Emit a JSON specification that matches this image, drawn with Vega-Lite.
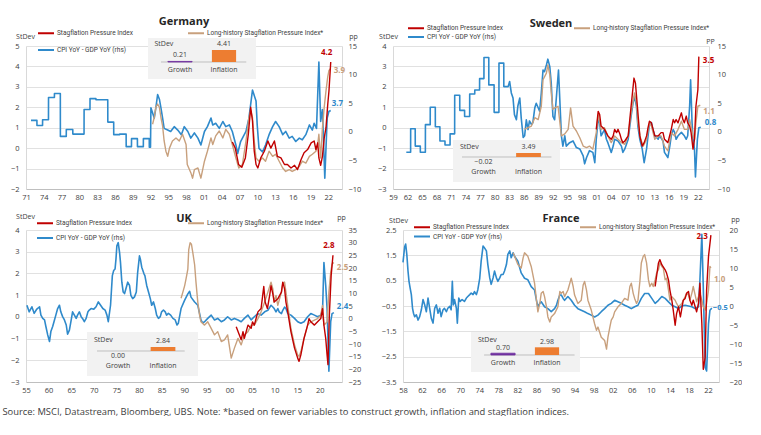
{
"$schema": "https://vega.github.io/schema/vega-lite/v6.json",
"padding": {"left": 2, "top": 15, "right": 0, "bottom": 0},
"config": {
  "font": "Open Sans",
  "view": {"stroke": null},
  "axis": {"labelFontSize": 7.5, "labelColor": "#404040", "ticks": false, "grid": false, "titleFontSize": 7, "titleFontWeight": "normal", "titleColor": "#404040", "domainColor": "#D9D9D9", "gridColor": "#D9D9D9", "gridWidth": 0.8, "labelFont": "Open Sans", "titleFont": "Open Sans"},
  "axisX": {"domainColor": "#BFBFBF", "labelPadding": 4, "labelFlush": false, "labelOverlap": false},
  "legend": {"labelFontSize": 6.5, "labelColor": "#404040", "labelFont": "Roboto", "symbolType": "M-2,0H2", "symbolSize": 64, "symbolStrokeWidth": 2, "labelOffset": 6, "orient": "none", "columns": 2, "direction": "horizontal"},
  "title": {"fontSize": 11, "fontWeight": "bold", "color": "#262626", "frame": "group", "font": "Open Sans"},
  "line": {"strokeJoin": "round"}
},
"datasets": {
"de_in": [{"k":"Growth","v":0.21},{"k":"Inflation","v":4.41}],
"se_in": [{"k":"Growth","v":-0.02},{"k":"Inflation","v":3.49}],
"uk_in": [{"k":"Growth","v":0.00},{"k":"Inflation","v":2.84}],
"fr_in": [{"k":"Growth","v":0.70},{"k":"Inflation","v":2.98}],
"de": [
{"s":"C","t":1971.84,"v":2.0},{"s":"C","t":1972.84,"v":2.0},{"s":"C","t":1972.85,"v":1.1},{"s":"C","t":1973.79,"v":1.1},{"s":"C","t":1973.8,"v":2.1},{"s":"C","t":1974.79,"v":2.1},{"s":"C","t":1974.8,"v":6.0},{"s":"C","t":1975.79,"v":6.0},{"s":"C","t":1975.8,"v":6.7},{"s":"C","t":1976.79,"v":6.7},{"s":"C","t":1976.8,"v":-0.8},{"s":"C","t":1977.79,"v":-0.8},{"s":"C","t":1977.8,"v":0.4},{"s":"C","t":1978.89,"v":0.4},{"s":"C","t":1978.9,"v":-0.4},{"s":"C","t":1980.79,"v":-0.4},{"s":"C","t":1980.8,"v":3.9},{"s":"C","t":1981.79,"v":3.9},{"s":"C","t":1981.8,"v":5.8},{"s":"C","t":1982.79,"v":5.8},{"s":"C","t":1982.8,"v":5.6},{"s":"C","t":1984.79,"v":5.6},{"s":"C","t":1984.8,"v":1.7},{"s":"C","t":1985.79,"v":1.7},{"s":"C","t":1985.8,"v":-0.5},{"s":"C","t":1986.79,"v":-0.5},{"s":"C","t":1986.8,"v":-0.4},{"s":"C","t":1987.89,"v":-0.4},{"s":"C","t":1987.9,"v":-2.6},{"s":"C","t":1988.79,"v":-2.6},{"s":"C","t":1988.8,"v":-1.2},{"s":"C","t":1989.79,"v":-1.2},{"s":"C","t":1989.8,"v":-2.6},{"s":"C","t":1990.79,"v":-2.6},{"s":"C","t":1990.8,"v":-1.2},{"s":"C","t":1991.79,"v":-1.2},{"s":"C","t":1991.8,"v":-2.7},{"s":"C","t":1992.0,"v":-2.7},
{"s":"C","t":1992.07,"v":4.2},{"s":"C","t":1992.63,"v":2.4},{"s":"C","t":1992.9,"v":4.2},{"s":"C","t":1993.2,"v":6.5},{"s":"C","t":1993.5,"v":5.7},{"s":"C","t":1993.76,"v":4.2},{"s":"C","t":1994.04,"v":2.4},{"s":"C","t":1994.3,"v":0.6},{"s":"C","t":1994.9,"v":0.3},{"s":"C","t":1995.4,"v":0.06},{"s":"C","t":1996.0,"v":0.9},{"s":"C","t":1996.6,"v":0.3},{"s":"C","t":1997.2,"v":-0.5},{"s":"C","t":1997.7,"v":0.9},{"s":"C","t":1998.3,"v":0.06},{"s":"C","t":1998.8,"v":-1.1},{"s":"C","t":1999.4,"v":-0.2},{"s":"C","t":2000.0,"v":-1.1},{"s":"C","t":2000.5,"v":-2.3},{"s":"C","t":2001.1,"v":0.06},{"s":"C","t":2001.6,"v":0.9},{"s":"C","t":2002.2,"v":2.4},{"s":"C","t":2002.5,"v":1.2},{"s":"C","t":2003.0,"v":1.5},{"s":"C","t":2003.6,"v":0.6},{"s":"C","t":2004.2,"v":1.8},{"s":"C","t":2004.7,"v":0.9},{"s":"C","t":2005.3,"v":1.2},{"s":"C","t":2005.8,"v":0.06},{"s":"C","t":2006.4,"v":-2.3},{"s":"C","t":2006.7,"v":-3.8},{"s":"C","t":2007.2,"v":-1.7},{"s":"C","t":2008.1,"v":0.06},{"s":"C","t":2008.6,"v":2.4},{"s":"C","t":2009.2,"v":7.3},{"s":"C","t":2009.8,"v":5.4},{"s":"C","t":2010.0,"v":1.2},{"s":"C","t":2010.3,"v":-2.9},{"s":"C","t":2010.9,"v":-3.5},{"s":"C","t":2011.4,"v":-2.3},{"s":"C","t":2012.0,"v":-0.5},{"s":"C","t":2012.6,"v":0.9},{"s":"C","t":2013.1,"v":1.8},{"s":"C","t":2013.7,"v":0.9},{"s":"C","t":2014.3,"v":-0.5},{"s":"C","t":2014.8,"v":0.06},{"s":"C","t":2015.4,"v":-1.1},{"s":"C","t":2015.9,"v":-0.8},{"s":"C","t":2016.5,"v":-1.7},{"s":"C","t":2017.1,"v":-1.1},{"s":"C","t":2017.6,"v":-1.4},{"s":"C","t":2018.2,"v":-0.5},{"s":"C","t":2018.8,"v":1.2},{"s":"C","t":2019.3,"v":0.3},{"s":"C","t":2019.6,"v":1.5},{"s":"C","t":2020.0,"v":0.6},{"s":"C","t":2020.4,"v":12.2},{"s":"C","t":2020.7,"v":1.8},{"s":"C","t":2021.0,"v":3.9},{"s":"C","t":2021.4,"v":-8.1},{"s":"C","t":2021.8,"v":2.4},{"s":"C","t":2022.1,"v":3.6},{"s":"C","t":2022.4,"v":3.7},
{"s":"L","t":1992.35,"v":1.17},{"s":"L","t":1992.63,"v":1.5},{"s":"L","t":1992.9,"v":2.0},{"s":"L","t":1993.2,"v":2.16},{"s":"L","t":1993.5,"v":2.0},{"s":"L","t":1993.76,"v":1.5},{"s":"L","t":1994.04,"v":1.09},{"s":"L","t":1994.3,"v":0.35},{"s":"L","t":1994.6,"v":-0.15},{"s":"L","t":1994.9,"v":-0.4},{"s":"L","t":1995.2,"v":0.0},{"s":"L","t":1995.7,"v":0.35},{"s":"L","t":1996.3,"v":0.5},{"s":"L","t":1996.85,"v":0.35},{"s":"L","t":1997.4,"v":0.68},{"s":"L","t":1998.0,"v":0.18},{"s":"L","t":1998.2,"v":-0.8},{"s":"L","t":1998.8,"v":-1.2},{"s":"L","t":1999.1,"v":-1.47},{"s":"L","t":1999.4,"v":-1.05},{"s":"L","t":2000.0,"v":-0.97},{"s":"L","t":2000.5,"v":-1.47},{"s":"L","t":2001.1,"v":-0.64},{"s":"L","t":2001.6,"v":-0.15},{"s":"L","t":2002.2,"v":0.5},{"s":"L","t":2002.5,"v":0.18},{"s":"L","t":2003.0,"v":0.6},{"s":"L","t":2003.6,"v":0.84},{"s":"L","t":2004.2,"v":0.5},{"s":"L","t":2004.7,"v":0.92},{"s":"L","t":2005.3,"v":0.68},{"s":"L","t":2005.8,"v":0.18},{"s":"L","t":2006.4,"v":-0.48},{"s":"L","t":2006.9,"v":-0.97},{"s":"L","t":2007.5,"v":-0.8},{"s":"L","t":2008.1,"v":0.35},{"s":"L","t":2008.6,"v":1.5},{"s":"L","t":2008.9,"v":1.83},{"s":"L","t":2009.2,"v":1.5},{"s":"L","t":2009.5,"v":0.35},{"s":"L","t":2009.8,"v":-0.48},{"s":"L","t":2010.3,"v":-0.64},{"s":"L","t":2010.9,"v":-0.48},{"s":"L","t":2011.4,"v":-0.64},{"s":"L","t":2012.0,"v":-0.15},{"s":"L","t":2012.6,"v":-0.4},{"s":"L","t":2013.1,"v":-0.3},{"s":"L","t":2013.7,"v":-0.64},{"s":"L","t":2014.3,"v":-0.97},{"s":"L","t":2014.8,"v":-1.14},{"s":"L","t":2015.4,"v":-1.05},{"s":"L","t":2015.9,"v":-1.14},{"s":"L","t":2016.5,"v":-1.05},{"s":"L","t":2017.1,"v":-0.9},{"s":"L","t":2017.6,"v":-0.64},{"s":"L","t":2018.2,"v":-0.73},{"s":"L","t":2018.8,"v":-0.4},{"s":"L","t":2019.3,"v":-0.3},{"s":"L","t":2019.9,"v":-0.15},{"s":"L","t":2020.2,"v":0.18},{"s":"L","t":2020.4,"v":0.68},{"s":"L","t":2020.7,"v":-0.48},{"s":"L","t":2021.0,"v":1.0},{"s":"L","t":2021.3,"v":2.0},{"s":"L","t":2021.6,"v":2.8},{"s":"L","t":2021.9,"v":3.5},{"s":"L","t":2022.1,"v":3.8},{"s":"L","t":2022.4,"v":3.9},
{"s":"S","t":2005.8,"v":0.3},{"s":"S","t":2006.3,"v":0.0},{"s":"S","t":2006.85,"v":-0.8},{"s":"S","t":2007.4,"v":-0.94},{"s":"S","t":2008.0,"v":-0.48},{"s":"S","t":2008.5,"v":0.68},{"s":"S","t":2008.9,"v":2.0},{"s":"S","t":2009.2,"v":1.34},{"s":"S","t":2009.5,"v":-0.15},{"s":"S","t":2009.8,"v":-0.8},{"s":"S","t":2010.1,"v":-0.97},{"s":"S","t":2010.6,"v":-0.48},{"s":"S","t":2011.2,"v":-0.15},{"s":"S","t":2011.8,"v":0.35},{"s":"S","t":2012.3,"v":0.0},{"s":"S","t":2012.9,"v":0.35},{"s":"S","t":2013.4,"v":-0.4},{"s":"S","t":2014.0,"v":-0.48},{"s":"S","t":2014.6,"v":-0.8},{"s":"S","t":2015.1,"v":-0.8},{"s":"S","t":2015.7,"v":-0.97},{"s":"S","t":2016.3,"v":-0.84},{"s":"S","t":2016.8,"v":-1.05},{"s":"S","t":2017.4,"v":-0.56},{"s":"S","t":2017.9,"v":-0.23},{"s":"S","t":2018.5,"v":-0.07},{"s":"S","t":2019.1,"v":0.26},{"s":"S","t":2019.6,"v":0.35},{"s":"S","t":2019.9,"v":-0.07},{"s":"S","t":2020.2,"v":0.26},{"s":"S","t":2020.4,"v":-0.48},{"s":"S","t":2020.7,"v":-0.84},{"s":"S","t":2021.0,"v":-0.4},{"s":"S","t":2021.3,"v":0.5},{"s":"S","t":2021.6,"v":1.0},{"s":"S","t":2021.9,"v":2.16},{"s":"S","t":2022.1,"v":2.8},{"s":"S","t":2022.4,"v":4.22}
],
"se": [
{"s":"C","t":1961.75,"v":-3.57},{"s":"C","t":1962.64,"v":-3.57},{"s":"C","t":1962.65,"v":0.54},{"s":"C","t":1963.59,"v":0.54},{"s":"C","t":1963.6,"v":-2.5},{"s":"C","t":1964.64,"v":-2.5},{"s":"C","t":1964.65,"v":-3.57},{"s":"C","t":1965.69,"v":-3.57},{"s":"C","t":1965.7,"v":1.25},{"s":"C","t":1966.69,"v":1.25},{"s":"C","t":1966.7,"v":4.3},{"s":"C","t":1967.74,"v":4.3},{"s":"C","t":1967.75,"v":0.89},{"s":"C","t":1968.69,"v":0.89},{"s":"C","t":1968.7,"v":-1.6},{"s":"C","t":1969.74,"v":-1.6},{"s":"C","t":1969.75,"v":-2.3},{"s":"C","t":1970.79,"v":-2.3},{"s":"C","t":1970.8,"v":-0.36},{"s":"C","t":1971.74,"v":-0.36},{"s":"C","t":1971.75,"v":6.4},{"s":"C","t":1972.79,"v":6.4},{"s":"C","t":1972.8,"v":3.75},{"s":"C","t":1973.79,"v":3.75},{"s":"C","t":1973.8,"v":2.68},{"s":"C","t":1974.84,"v":2.68},{"s":"C","t":1974.85,"v":6.6},{"s":"C","t":1975.89,"v":6.6},{"s":"C","t":1975.9,"v":7.3},{"s":"C","t":1976.89,"v":7.3},{"s":"C","t":1976.9,"v":9.3},{"s":"C","t":1977.79,"v":9.3},{"s":"C","t":1977.8,"v":13.0},{"s":"C","t":1978.79,"v":13.0},{"s":"C","t":1978.8,"v":8.2},{"s":"C","t":1979.89,"v":8.2},{"s":"C","t":1979.9,"v":3.4},{"s":"C","t":1980.89,"v":3.4},{"s":"C","t":1980.9,"v":12.0},{"s":"C","t":1981.89,"v":12.0},{"s":"C","t":1981.9,"v":7.9},{"s":"C","t":1982.79,"v":7.9},
{"s":"C","t":1983.1,"v":8.8},{"s":"C","t":1983.45,"v":6.8},{"s":"C","t":1983.8,"v":5.9},{"s":"C","t":1984.1,"v":3.0},{"s":"C","t":1984.5,"v":2.1},{"s":"C","t":1984.8,"v":4.5},{"s":"C","t":1985.2,"v":5.9},{"s":"C","t":1985.5,"v":2.4},{"s":"C","t":1985.9,"v":-1.0},{"s":"C","t":1986.2,"v":-0.7},{"s":"C","t":1986.55,"v":2.1},{"s":"C","t":1986.9,"v":0.4},{"s":"C","t":1987.2,"v":1.9},{"s":"C","t":1987.6,"v":1.3},{"s":"C","t":1987.9,"v":1.6},{"s":"C","t":1988.3,"v":4.2},{"s":"C","t":1988.6,"v":5.0},{"s":"C","t":1989.0,"v":4.2},{"s":"C","t":1989.3,"v":3.6},{"s":"C","t":1989.65,"v":6.8},{"s":"C","t":1990.0,"v":10.8},{"s":"C","t":1990.3,"v":10.5},{"s":"C","t":1990.7,"v":11.7},{"s":"C","t":1991.0,"v":12.7},{"s":"C","t":1991.4,"v":11.4},{"s":"C","t":1991.7,"v":8.5},{"s":"C","t":1992.05,"v":2.7},{"s":"C","t":1992.4,"v":2.1},{"s":"C","t":1993.2,"v":10.8},{"s":"C","t":1993.8,"v":-0.7},{"s":"C","t":1994.1,"v":-2.5},{"s":"C","t":1994.5,"v":-0.7},{"s":"C","t":1994.8,"v":-2.5},{"s":"C","t":1995.5,"v":-1.9},{"s":"C","t":1996.2,"v":-1.6},{"s":"C","t":1996.9,"v":-2.75},{"s":"C","t":1997.6,"v":-3.0},{"s":"C","t":1998.3,"v":-4.2},{"s":"C","t":1998.6,"v":-5.6},{"s":"C","t":1999.0,"v":-4.5},{"s":"C","t":1999.6,"v":-3.3},{"s":"C","t":2000.3,"v":-3.6},{"s":"C","t":2000.7,"v":-5.4},{"s":"C","t":2001.0,"v":-1.3},{"s":"C","t":2001.4,"v":2.1},{"s":"C","t":2001.7,"v":1.6},{"s":"C","t":2002.0,"v":-0.7},{"s":"C","t":2002.7,"v":0.4},{"s":"C","t":2003.1,"v":-1.3},{"s":"C","t":2003.4,"v":-1.9},{"s":"C","t":2004.1,"v":-3.6},{"s":"C","t":2004.5,"v":-2.5},{"s":"C","t":2004.8,"v":-1.3},{"s":"C","t":2005.5,"v":-1.6},{"s":"C","t":2006.2,"v":-2.5},{"s":"C","t":2006.5,"v":-3.6},{"s":"C","t":2006.9,"v":-3.0},{"s":"C","t":2007.6,"v":-1.3},{"s":"C","t":2008.2,"v":2.7},{"s":"C","t":2008.6,"v":5.0},{"s":"C","t":2008.9,"v":6.2},{"s":"C","t":2009.3,"v":4.5},{"s":"C","t":2009.6,"v":1.0},{"s":"C","t":2010.0,"v":-1.3},{"s":"C","t":2010.5,"v":-3.0},{"s":"C","t":2010.9,"v":-5.4},{"s":"C","t":2011.4,"v":-3.0},{"s":"C","t":2011.7,"v":-0.7},{"s":"C","t":2012.0,"v":1.3},{"s":"C","t":2012.4,"v":1.6},{"s":"C","t":2012.7,"v":0.4},{"s":"C","t":2013.1,"v":-0.7},{"s":"C","t":2013.8,"v":-1.3},{"s":"C","t":2014.1,"v":-0.7},{"s":"C","t":2014.8,"v":-1.6},{"s":"C","t":2015.1,"v":-3.6},{"s":"C","t":2015.8,"v":-4.5},{"s":"C","t":2016.2,"v":-2.5},{"s":"C","t":2016.5,"v":-0.7},{"s":"C","t":2016.9,"v":0.4},{"s":"C","t":2017.2,"v":-0.1},{"s":"C","t":2017.5,"v":-1.3},{"s":"C","t":2017.9,"v":-0.7},{"s":"C","t":2018.6,"v":-0.1},{"s":"C","t":2019.2,"v":-0.7},{"s":"C","t":2019.6,"v":-1.3},{"s":"C","t":2019.9,"v":-0.7},{"s":"C","t":2020.3,"v":4.5},{"s":"C","t":2020.5,"v":9.1},{"s":"C","t":2020.8,"v":1.6},{"s":"C","t":2021.0,"v":-1.3},{"s":"C","t":2021.3,"v":-3.0},{"s":"C","t":2021.5,"v":-7.9},{"s":"C","t":2021.9,"v":-1.3},{"s":"C","t":2022.2,"v":0.7},{"s":"C","t":2022.6,"v":0.8},
{"s":"L","t":1986.2,"v":-0.08},{"s":"L","t":1986.9,"v":0.0},{"s":"L","t":1987.6,"v":0.08},{"s":"L","t":1988.3,"v":0.49},{"s":"L","t":1989.0,"v":0.4},{"s":"L","t":1989.65,"v":1.05},{"s":"L","t":1990.0,"v":2.35},{"s":"L","t":1990.7,"v":2.67},{"s":"L","t":1991.0,"v":3.07},{"s":"L","t":1991.4,"v":2.6},{"s":"L","t":1991.7,"v":1.7},{"s":"L","t":1992.05,"v":0.9},{"s":"L","t":1992.4,"v":0.97},{"s":"L","t":1993.1,"v":1.05},{"s":"L","t":1993.8,"v":-0.4},{"s":"L","t":1994.5,"v":-0.3},{"s":"L","t":1995.2,"v":-0.08},{"s":"L","t":1995.7,"v":0.97},{"s":"L","t":1996.2,"v":0.08},{"s":"L","t":1996.9,"v":-0.16},{"s":"L","t":1997.6,"v":-0.49},{"s":"L","t":1998.3,"v":-0.9},{"s":"L","t":1999.0,"v":-0.97},{"s":"L","t":1999.6,"v":-0.9},{"s":"L","t":2000.3,"v":-1.05},{"s":"L","t":2001.0,"v":-0.24},{"s":"L","t":2001.4,"v":0.65},{"s":"L","t":2002.0,"v":-0.08},{"s":"L","t":2002.7,"v":0.0},{"s":"L","t":2003.4,"v":-0.4},{"s":"L","t":2004.1,"v":-0.73},{"s":"L","t":2004.8,"v":-0.4},{"s":"L","t":2005.5,"v":-0.57},{"s":"L","t":2006.2,"v":-0.73},{"s":"L","t":2006.9,"v":-0.81},{"s":"L","t":2007.6,"v":-0.4},{"s":"L","t":2008.2,"v":0.73},{"s":"L","t":2008.9,"v":1.7},{"s":"L","t":2009.3,"v":1.2},{"s":"L","t":2009.6,"v":0.24},{"s":"L","t":2010.2,"v":-0.57},{"s":"L","t":2010.7,"v":-0.9},{"s":"L","t":2011.4,"v":-0.57},{"s":"L","t":2012.0,"v":0.24},{"s":"L","t":2012.4,"v":0.08},{"s":"L","t":2013.1,"v":-0.57},{"s":"L","t":2013.8,"v":-0.4},{"s":"L","t":2014.4,"v":-0.4},{"s":"L","t":2015.1,"v":-0.9},{"s":"L","t":2015.8,"v":-1.13},{"s":"L","t":2016.5,"v":-0.24},{"s":"L","t":2017.2,"v":-0.4},{"s":"L","t":2017.9,"v":-0.08},{"s":"L","t":2018.6,"v":0.32},{"s":"L","t":2019.2,"v":-0.08},{"s":"L","t":2019.9,"v":-0.08},{"s":"L","t":2020.3,"v":0.4},{"s":"L","t":2020.6,"v":0.08},{"s":"L","t":2021.0,"v":-0.4},{"s":"L","t":2021.3,"v":-0.57},{"s":"L","t":2021.6,"v":0.24},{"s":"L","t":2022.0,"v":1.05},{"s":"L","t":2022.5,"v":1.1},
{"s":"S","t":2001.0,"v":-0.08},{"s":"S","t":2001.4,"v":0.8},{"s":"S","t":2001.7,"v":0.65},{"s":"S","t":2002.0,"v":0.08},{"s":"S","t":2002.7,"v":-0.08},{"s":"S","t":2003.4,"v":-0.4},{"s":"S","t":2004.1,"v":-0.57},{"s":"S","t":2004.5,"v":-0.4},{"s":"S","t":2004.8,"v":-0.08},{"s":"S","t":2005.2,"v":-0.24},{"s":"S","t":2005.5,"v":-0.08},{"s":"S","t":2005.9,"v":-0.32},{"s":"S","t":2006.2,"v":-0.57},{"s":"S","t":2006.5,"v":-0.73},{"s":"S","t":2006.9,"v":-0.65},{"s":"S","t":2007.6,"v":-0.4},{"s":"S","t":2008.2,"v":1.05},{"s":"S","t":2008.8,"v":2.43},{"s":"S","t":2009.1,"v":2.18},{"s":"S","t":2009.5,"v":1.05},{"s":"S","t":2010.0,"v":-0.4},{"s":"S","t":2010.5,"v":-0.9},{"s":"S","t":2010.9,"v":-0.73},{"s":"S","t":2011.4,"v":-0.4},{"s":"S","t":2011.7,"v":0.0},{"s":"S","t":2012.0,"v":0.32},{"s":"S","t":2012.4,"v":0.24},{"s":"S","t":2013.1,"v":-0.4},{"s":"S","t":2013.8,"v":-0.4},{"s":"S","t":2014.4,"v":-0.24},{"s":"S","t":2014.8,"v":-0.24},{"s":"S","t":2015.1,"v":-0.57},{"s":"S","t":2015.8,"v":-0.73},{"s":"S","t":2016.5,"v":-0.08},{"s":"S","t":2016.9,"v":0.4},{"s":"S","t":2017.2,"v":0.24},{"s":"S","t":2017.5,"v":0.4},{"s":"S","t":2017.9,"v":0.24},{"s":"S","t":2018.6,"v":0.73},{"s":"S","t":2018.9,"v":0.4},{"s":"S","t":2019.2,"v":0.24},{"s":"S","t":2019.6,"v":0.57},{"s":"S","t":2019.9,"v":0.24},{"s":"S","t":2020.3,"v":0.08},{"s":"S","t":2020.6,"v":-0.24},{"s":"S","t":2021.0,"v":-1.05},{"s":"S","t":2021.3,"v":-0.57},{"s":"S","t":2021.6,"v":1.05},{"s":"S","t":2022.0,"v":1.86},{"s":"S","t":2022.2,"v":3.48}
],
"uk": [
{"s":"C","t":1955.2,"v":5.3},{"s":"C","t":1955.7,"v":2.7},{"s":"C","t":1956.3,"v":4.7},{"s":"C","t":1956.8,"v":2.1},{"s":"C","t":1957.4,"v":3.8},{"s":"C","t":1958.0,"v":4.7},{"s":"C","t":1958.3,"v":1.4},{"s":"C","t":1958.7,"v":0.1},{"s":"C","t":1959.1,"v":-0.5},{"s":"C","t":1959.4,"v":-3.1},{"s":"C","t":1959.8,"v":-6.4},{"s":"C","t":1960.2,"v":-9.0},{"s":"C","t":1960.5,"v":-5.1},{"s":"C","t":1960.9,"v":-3.1},{"s":"C","t":1961.3,"v":-0.5},{"s":"C","t":1961.6,"v":1.4},{"s":"C","t":1962.0,"v":4.0},{"s":"C","t":1962.4,"v":5.3},{"s":"C","t":1962.7,"v":2.7},{"s":"C","t":1963.1,"v":0.8},{"s":"C","t":1963.5,"v":-0.5},{"s":"C","t":1963.9,"v":-2.5},{"s":"C","t":1964.2,"v":-6.1},{"s":"C","t":1964.6,"v":-4.5},{"s":"C","t":1965.0,"v":-0.5},{"s":"C","t":1965.3,"v":2.7},{"s":"C","t":1965.7,"v":1.4},{"s":"C","t":1966.1,"v":0.1},{"s":"C","t":1966.4,"v":1.4},{"s":"C","t":1966.8,"v":2.7},{"s":"C","t":1967.2,"v":0.8},{"s":"C","t":1967.5,"v":0.1},{"s":"C","t":1967.9,"v":-1.2},{"s":"C","t":1968.3,"v":0.1},{"s":"C","t":1968.7,"v":2.7},{"s":"C","t":1969.0,"v":3.4},{"s":"C","t":1969.4,"v":4.0},{"s":"C","t":1970.0,"v":3.75},{"s":"C","t":1970.5,"v":4.7},{"s":"C","t":1971.0,"v":6.6},{"s":"C","t":1971.5,"v":5.3},{"s":"C","t":1972.0,"v":4.0},{"s":"C","t":1972.5,"v":3.4},{"s":"C","t":1972.9,"v":1.4},{"s":"C","t":1973.2,"v":-1.2},{"s":"C","t":1973.7,"v":5.3},{"s":"C","t":1974.1,"v":17.0},{"s":"C","t":1974.4,"v":19.0},{"s":"C","t":1974.7,"v":19.6},{"s":"C","t":1974.9,"v":23.5},{"s":"C","t":1975.1,"v":28.75},{"s":"C","t":1975.4,"v":30.0},{"s":"C","t":1975.7,"v":26.1},{"s":"C","t":1975.9,"v":22.2},{"s":"C","t":1976.2,"v":14.4},{"s":"C","t":1976.5,"v":10.5},{"s":"C","t":1976.8,"v":9.9},{"s":"C","t":1977.1,"v":11.8},{"s":"C","t":1977.5,"v":14.4},{"s":"C","t":1977.9,"v":13.1},{"s":"C","t":1978.2,"v":9.2},{"s":"C","t":1978.6,"v":7.9},{"s":"C","t":1979.0,"v":8.6},{"s":"C","t":1979.4,"v":10.5},{"s":"C","t":1979.7,"v":18.3},{"s":"C","t":1980.1,"v":24.8},{"s":"C","t":1980.3,"v":23.5},{"s":"C","t":1980.6,"v":20.3},{"s":"C","t":1981.1,"v":17.7},{"s":"C","t":1981.3,"v":17.0},{"s":"C","t":1981.7,"v":13.1},{"s":"C","t":1982.1,"v":10.5},{"s":"C","t":1982.5,"v":7.9},{"s":"C","t":1982.8,"v":5.3},{"s":"C","t":1983.2,"v":6.6},{"s":"C","t":1983.6,"v":4.0},{"s":"C","t":1983.9,"v":1.4},{"s":"C","t":1984.3,"v":0.1},{"s":"C","t":1984.7,"v":0.8},{"s":"C","t":1985.0,"v":2.7},{"s":"C","t":1985.4,"v":3.4},{"s":"C","t":1985.8,"v":2.7},{"s":"C","t":1986.1,"v":1.4},{"s":"C","t":1986.5,"v":2.1},{"s":"C","t":1987.0,"v":1.4},{"s":"C","t":1987.5,"v":0.1},{"s":"C","t":1988.0,"v":-0.5},{"s":"C","t":1988.4,"v":-2.5},{"s":"C","t":1988.7,"v":-1.8},{"s":"C","t":1989.3,"v":4.0},{"s":"C","t":1990.1,"v":7.3},{"s":"C","t":1990.8,"v":9.8},{"s":"C","t":1991.2,"v":10.8},{"s":"C","t":1991.5,"v":8.5},{"s":"C","t":1992.3,"v":6.6},{"s":"C","t":1993.0,"v":5.3},{"s":"C","t":1993.4,"v":2.0},{"s":"C","t":1993.7,"v":-0.5},{"s":"C","t":1994.1,"v":-1.8},{"s":"C","t":1994.5,"v":-1.2},{"s":"C","t":1995.2,"v":0.1},{"s":"C","t":1995.96,"v":1.4},{"s":"C","t":1996.7,"v":-0.5},{"s":"C","t":1997.4,"v":0.1},{"s":"C","t":1998.2,"v":-1.2},{"s":"C","t":1998.9,"v":-0.5},{"s":"C","t":1999.6,"v":0.76},{"s":"C","t":2000.4,"v":-0.5},{"s":"C","t":2001.1,"v":0.1},{"s":"C","t":2001.9,"v":-0.5},{"s":"C","t":2002.6,"v":-1.2},{"s":"C","t":2003.3,"v":0.1},{"s":"C","t":2004.1,"v":1.4},{"s":"C","t":2004.8,"v":-0.5},{"s":"C","t":2005.5,"v":0.76},{"s":"C","t":2006.3,"v":2.0},{"s":"C","t":2007.0,"v":1.4},{"s":"C","t":2007.8,"v":2.7},{"s":"C","t":2008.5,"v":3.3},{"s":"C","t":2009.2,"v":5.3},{"s":"C","t":2009.6,"v":4.6},{"s":"C","t":2009.9,"v":4.0},{"s":"C","t":2010.3,"v":2.7},{"s":"C","t":2010.7,"v":4.0},{"s":"C","t":2011.0,"v":2.7},{"s":"C","t":2011.5,"v":2.0},{"s":"C","t":2011.8,"v":3.3},{"s":"C","t":2012.2,"v":4.6},{"s":"C","t":2012.5,"v":4.0},{"s":"C","t":2012.9,"v":2.0},{"s":"C","t":2013.6,"v":1.4},{"s":"C","t":2014.4,"v":0.1},{"s":"C","t":2015.1,"v":-1.2},{"s":"C","t":2015.8,"v":-1.8},{"s":"C","t":2016.5,"v":-1.2},{"s":"C","t":2017.3,"v":0.76},{"s":"C","t":2018.0,"v":2.0},{"s":"C","t":2018.8,"v":1.4},{"s":"C","t":2019.5,"v":0.76},{"s":"C","t":2020.2,"v":1.4},{"s":"C","t":2020.6,"v":3.3},{"s":"C","t":2020.9,"v":22.2},{"s":"C","t":2021.3,"v":13.1},{"s":"C","t":2021.6,"v":4.0},{"s":"C","t":2022.0,"v":-20.7},{"s":"C","t":2022.4,"v":-1.2},{"s":"C","t":2022.7,"v":2.0},{"s":"C","t":2023.1,"v":2.4},
{"s":"L","t":1989.3,"v":0.86},{"s":"L","t":1989.7,"v":1.14},{"s":"L","t":1990.1,"v":1.44},{"s":"L","t":1990.4,"v":1.75},{"s":"L","t":1990.8,"v":2.2},{"s":"L","t":1991.0,"v":3.1},{"s":"L","t":1991.3,"v":3.41},{"s":"L","t":1991.6,"v":3.34},{"s":"L","t":1991.9,"v":2.96},{"s":"L","t":1992.3,"v":2.4},{"s":"L","t":1992.6,"v":1.6},{"s":"L","t":1993.0,"v":0.68},{"s":"L","t":1993.4,"v":0.08},{"s":"L","t":1993.7,"v":-0.23},{"s":"L","t":1994.5,"v":-0.38},{"s":"L","t":1995.2,"v":-0.23},{"s":"L","t":1995.96,"v":-0.53},{"s":"L","t":1996.7,"v":-0.83},{"s":"L","t":1997.4,"v":-0.68},{"s":"L","t":1998.2,"v":-1.14},{"s":"L","t":1998.9,"v":-1.06},{"s":"L","t":1999.6,"v":-0.83},{"s":"L","t":2000.4,"v":-1.9},{"s":"L","t":2001.1,"v":-1.44},{"s":"L","t":2001.9,"v":-0.99},{"s":"L","t":2002.6,"v":-1.29},{"s":"L","t":2003.3,"v":-0.83},{"s":"L","t":2004.1,"v":-0.68},{"s":"L","t":2004.8,"v":-0.38},{"s":"L","t":2005.5,"v":-0.38},{"s":"L","t":2006.3,"v":-0.08},{"s":"L","t":2007.0,"v":0.23},{"s":"L","t":2007.8,"v":0.68},{"s":"L","t":2008.5,"v":1.14},{"s":"L","t":2009.2,"v":1.6},{"s":"L","t":2009.6,"v":1.29},{"s":"L","t":2009.9,"v":0.68},{"s":"L","t":2010.3,"v":0.99},{"s":"L","t":2010.7,"v":0.53},{"s":"L","t":2011.5,"v":1.14},{"s":"L","t":2011.8,"v":1.52},{"s":"L","t":2012.2,"v":1.6},{"s":"L","t":2012.5,"v":1.14},{"s":"L","t":2012.9,"v":0.53},{"s":"L","t":2013.6,"v":-0.53},{"s":"L","t":2014.4,"v":-1.29},{"s":"L","t":2015.1,"v":-1.75},{"s":"L","t":2015.4,"v":-1.82},{"s":"L","t":2015.8,"v":-1.6},{"s":"L","t":2016.5,"v":-0.99},{"s":"L","t":2017.3,"v":-0.38},{"s":"L","t":2018.0,"v":-0.23},{"s":"L","t":2018.8,"v":-0.15},{"s":"L","t":2019.5,"v":-0.08},{"s":"L","t":2020.2,"v":0.08},{"s":"L","t":2020.6,"v":0.53},{"s":"L","t":2020.9,"v":-0.38},{"s":"L","t":2021.3,"v":-0.3},{"s":"L","t":2021.6,"v":-0.23},{"s":"L","t":2022.0,"v":1.14},{"s":"L","t":2022.4,"v":2.05},{"s":"L","t":2022.7,"v":2.43},{"s":"L","t":2023.1,"v":2.5},
{"s":"S","t":2001.5,"v":-0.45},{"s":"S","t":2002.2,"v":-0.83},{"s":"S","t":2002.6,"v":-1.06},{"s":"S","t":2003.0,"v":-0.68},{"s":"S","t":2003.3,"v":-0.99},{"s":"S","t":2003.7,"v":-0.68},{"s":"S","t":2004.1,"v":-0.38},{"s":"S","t":2004.8,"v":-0.53},{"s":"S","t":2005.1,"v":-0.23},{"s":"S","t":2005.5,"v":-0.38},{"s":"S","t":2006.3,"v":0.23},{"s":"S","t":2007.0,"v":0.38},{"s":"S","t":2007.6,"v":1.4},{"s":"S","t":2007.9,"v":0.68},{"s":"S","t":2008.4,"v":0.38},{"s":"S","t":2008.9,"v":0.99},{"s":"S","t":2009.2,"v":1.44},{"s":"S","t":2009.6,"v":1.06},{"s":"S","t":2009.9,"v":0.68},{"s":"S","t":2010.7,"v":0.83},{"s":"S","t":2011.5,"v":1.14},{"s":"S","t":2011.8,"v":1.6},{"s":"S","t":2012.2,"v":1.29},{"s":"S","t":2012.5,"v":0.68},{"s":"S","t":2012.9,"v":0.23},{"s":"S","t":2013.6,"v":-0.68},{"s":"S","t":2014.4,"v":-1.44},{"s":"S","t":2015.1,"v":-1.9},{"s":"S","t":2015.4,"v":-2.05},{"s":"S","t":2015.8,"v":-1.75},{"s":"S","t":2016.5,"v":-0.99},{"s":"S","t":2017.3,"v":-0.38},{"s":"S","t":2017.6,"v":-0.08},{"s":"S","t":2018.0,"v":-0.23},{"s":"S","t":2018.8,"v":-0.38},{"s":"S","t":2019.5,"v":-0.23},{"s":"S","t":2020.2,"v":-0.08},{"s":"S","t":2020.6,"v":0.38},{"s":"S","t":2020.9,"v":-0.38},{"s":"S","t":2021.3,"v":-0.99},{"s":"S","t":2021.6,"v":-1.75},{"s":"S","t":2021.8,"v":-2.2},{"s":"S","t":2022.1,"v":0.08},{"s":"S","t":2022.5,"v":1.9},{"s":"S","t":2022.9,"v":2.84}
],
"fr": [
{"s":"C","t":1958.0,"v":11.5},{"s":"C","t":1958.35,"v":15.6},{"s":"C","t":1958.56,"v":16.3},{"s":"C","t":1958.8,"v":13.6},{"s":"C","t":1959.05,"v":9.2},{"s":"C","t":1959.26,"v":6.5},{"s":"C","t":1959.5,"v":4.7},{"s":"C","t":1959.75,"v":3.0},{"s":"C","t":1960.0,"v":-0.6},{"s":"C","t":1960.2,"v":-1.9},{"s":"C","t":1960.45,"v":-2.8},{"s":"C","t":1960.8,"v":-2.3},{"s":"C","t":1961.15,"v":-3.7},{"s":"C","t":1961.5,"v":-2.8},{"s":"C","t":1961.85,"v":-1.0},{"s":"C","t":1962.2,"v":1.7},{"s":"C","t":1962.55,"v":0.3},{"s":"C","t":1962.9,"v":-1.5},{"s":"C","t":1963.25,"v":2.1},{"s":"C","t":1963.6,"v":-0.6},{"s":"C","t":1963.95,"v":-3.3},{"s":"C","t":1964.3,"v":-4.5},{"s":"C","t":1964.65,"v":-0.6},{"s":"C","t":1965.0,"v":0.3},{"s":"C","t":1965.35,"v":-1.9},{"s":"C","t":1965.7,"v":-0.6},{"s":"C","t":1966.0,"v":-2.8},{"s":"C","t":1966.4,"v":-1.0},{"s":"C","t":1966.7,"v":-0.6},{"s":"C","t":1967.1,"v":-1.5},{"s":"C","t":1967.4,"v":-0.6},{"s":"C","t":1967.8,"v":-0.1},{"s":"C","t":1968.1,"v":-1.0},{"s":"C","t":1968.35,"v":6.5},{"s":"C","t":1968.55,"v":0.3},{"s":"C","t":1968.8,"v":1.7},{"s":"C","t":1969.2,"v":-0.6},{"s":"C","t":1969.4,"v":-4.5},{"s":"C","t":1969.7,"v":2.1},{"s":"C","t":1970.0,"v":1.2},{"s":"C","t":1970.4,"v":1.7},{"s":"C","t":1970.9,"v":1.2},{"s":"C","t":1971.3,"v":2.1},{"s":"C","t":1971.6,"v":2.5},{"s":"C","t":1972.0,"v":3.0},{"s":"C","t":1972.3,"v":3.4},{"s":"C","t":1972.7,"v":3.0},{"s":"C","t":1973.0,"v":3.8},{"s":"C","t":1973.4,"v":3.0},{"s":"C","t":1973.7,"v":4.3},{"s":"C","t":1974.1,"v":7.3},{"s":"C","t":1974.4,"v":11.8},{"s":"C","t":1974.8,"v":15.8},{"s":"C","t":1975.1,"v":15.3},{"s":"C","t":1975.5,"v":14.5},{"s":"C","t":1975.8,"v":10.9},{"s":"C","t":1976.2,"v":7.4},{"s":"C","t":1976.5,"v":5.7},{"s":"C","t":1976.9,"v":7.4},{"s":"C","t":1977.2,"v":9.2},{"s":"C","t":1977.6,"v":7.4},{"s":"C","t":1977.9,"v":6.5},{"s":"C","t":1978.3,"v":7.4},{"s":"C","t":1978.6,"v":8.3},{"s":"C","t":1979.0,"v":8.3},{"s":"C","t":1979.3,"v":9.2},{"s":"C","t":1979.7,"v":10.9},{"s":"C","t":1980.0,"v":13.6},{"s":"C","t":1980.4,"v":14.5},{"s":"C","t":1980.7,"v":12.7},{"s":"C","t":1981.1,"v":14.0},{"s":"C","t":1981.4,"v":13.1},{"s":"C","t":1982.1,"v":11.8},{"s":"C","t":1982.8,"v":8.7},{"s":"C","t":1983.5,"v":7.3},{"s":"C","t":1984.2,"v":6.9},{"s":"C","t":1984.9,"v":5.1},{"s":"C","t":1985.6,"v":4.2},{"s":"C","t":1986.0,"v":1.5},{"s":"C","t":1986.3,"v":-0.2},{"s":"C","t":1986.7,"v":0.7},{"s":"C","t":1987.0,"v":1.1},{"s":"C","t":1987.7,"v":-0.2},{"s":"C","t":1988.4,"v":-0.7},{"s":"C","t":1989.1,"v":-1.5},{"s":"C","t":1989.8,"v":-0.7},{"s":"C","t":1990.2,"v":0.2},{"s":"C","t":1990.5,"v":1.5},{"s":"C","t":1990.9,"v":2.9},{"s":"C","t":1991.2,"v":2.9},{"s":"C","t":1991.6,"v":2.0},{"s":"C","t":1991.9,"v":1.5},{"s":"C","t":1992.6,"v":2.5},{"s":"C","t":1993.3,"v":1.5},{"s":"C","t":1994.0,"v":0.2},{"s":"C","t":1994.7,"v":-0.7},{"s":"C","t":1995.4,"v":-1.1},{"s":"C","t":1996.1,"v":-1.5},{"s":"C","t":1996.8,"v":-2.0},{"s":"C","t":1997.5,"v":-2.4},{"s":"C","t":1998.2,"v":-2.9},{"s":"C","t":1998.9,"v":-2.4},{"s":"C","t":1999.6,"v":-1.5},{"s":"C","t":2000.3,"v":-0.7},{"s":"C","t":2001.0,"v":0.2},{"s":"C","t":2001.7,"v":0.7},{"s":"C","t":2002.4,"v":1.5},{"s":"C","t":2003.1,"v":1.1},{"s":"C","t":2003.8,"v":0.7},{"s":"C","t":2004.5,"v":0.2},{"s":"C","t":2005.2,"v":-0.2},{"s":"C","t":2005.9,"v":-0.7},{"s":"C","t":2006.6,"v":-0.2},{"s":"C","t":2007.3,"v":0.2},{"s":"C","t":2008.0,"v":2.0},{"s":"C","t":2008.7,"v":3.3},{"s":"C","t":2009.5,"v":3.3},{"s":"C","t":2010.2,"v":2.0},{"s":"C","t":2010.9,"v":0.7},{"s":"C","t":2011.6,"v":1.5},{"s":"C","t":2012.3,"v":2.5},{"s":"C","t":2013.0,"v":2.0},{"s":"C","t":2013.7,"v":1.1},{"s":"C","t":2014.4,"v":0.2},{"s":"C","t":2015.1,"v":-0.2},{"s":"C","t":2015.8,"v":-0.7},{"s":"C","t":2016.5,"v":0.0},{"s":"C","t":2017.2,"v":0.2},{"s":"C","t":2017.9,"v":0.0},{"s":"C","t":2018.6,"v":-0.2},{"s":"C","t":2019.3,"v":-0.7},{"s":"C","t":2020.0,"v":-0.2},{"s":"C","t":2020.3,"v":6.9},{"s":"C","t":2020.7,"v":18.9},{"s":"C","t":2021.0,"v":5.1},{"s":"C","t":2021.4,"v":-16.2},{"s":"C","t":2021.7,"v":-17.1},{"s":"C","t":2022.1,"v":-4.7},{"s":"C","t":2022.4,"v":-1.1},{"s":"C","t":2022.8,"v":-0.5},
{"s":"L","t":1981.1,"v":1.6},{"s":"L","t":1981.4,"v":1.47},{"s":"L","t":1982.1,"v":1.14},{"s":"L","t":1982.8,"v":1.0},{"s":"L","t":1983.2,"v":1.4},{"s":"L","t":1983.5,"v":1.6},{"s":"L","t":1984.2,"v":1.46},{"s":"L","t":1984.9,"v":1.06},{"s":"L","t":1985.6,"v":0.4},{"s":"L","t":1986.0,"v":-0.27},{"s":"L","t":1986.3,"v":-0.73},{"s":"L","t":1986.7,"v":-0.4},{"s":"L","t":1987.0,"v":0.0},{"s":"L","t":1987.4,"v":0.07},{"s":"L","t":1987.7,"v":-0.13},{"s":"L","t":1988.1,"v":-0.53},{"s":"L","t":1988.4,"v":-0.93},{"s":"L","t":1988.8,"v":-1.13},{"s":"L","t":1989.1,"v":-0.93},{"s":"L","t":1989.8,"v":-0.8},{"s":"L","t":1990.5,"v":-0.53},{"s":"L","t":1990.9,"v":0.07},{"s":"L","t":1991.2,"v":0.0},{"s":"L","t":1991.6,"v":0.07},{"s":"L","t":1991.9,"v":-0.13},{"s":"L","t":1992.6,"v":0.13},{"s":"L","t":1993.3,"v":0.6},{"s":"L","t":1993.7,"v":0.27},{"s":"L","t":1994.0,"v":-0.07},{"s":"L","t":1994.7,"v":-0.4},{"s":"L","t":1995.4,"v":-0.27},{"s":"L","t":1995.8,"v":0.33},{"s":"L","t":1996.1,"v":0.47},{"s":"L","t":1996.5,"v":0.13},{"s":"L","t":1996.8,"v":-0.27},{"s":"L","t":1997.5,"v":-0.66},{"s":"L","t":1998.2,"v":-1.2},{"s":"L","t":1998.6,"v":-1.46},{"s":"L","t":1998.9,"v":-1.33},{"s":"L","t":1999.6,"v":-1.73},{"s":"L","t":2000.3,"v":-1.86},{"s":"L","t":2000.7,"v":-2.2},{"s":"L","t":2001.0,"v":-1.73},{"s":"L","t":2001.4,"v":-1.33},{"s":"L","t":2001.7,"v":-1.06},{"s":"L","t":2002.1,"v":-0.93},{"s":"L","t":2002.4,"v":-0.73},{"s":"L","t":2003.1,"v":-0.53},{"s":"L","t":2003.8,"v":-0.4},{"s":"L","t":2004.5,"v":-0.2},{"s":"L","t":2005.2,"v":-0.27},{"s":"L","t":2005.6,"v":0.27},{"s":"L","t":2005.9,"v":0.4},{"s":"L","t":2006.3,"v":0.0},{"s":"L","t":2006.6,"v":-0.2},{"s":"L","t":2007.0,"v":-0.4},{"s":"L","t":2007.3,"v":-0.27},{"s":"L","t":2007.7,"v":0.47},{"s":"L","t":2008.0,"v":1.2},{"s":"L","t":2008.4,"v":1.46},{"s":"L","t":2008.7,"v":1.53},{"s":"L","t":2009.1,"v":1.2},{"s":"L","t":2009.5,"v":0.53},{"s":"L","t":2009.8,"v":0.27},{"s":"L","t":2010.2,"v":0.4},{"s":"L","t":2010.5,"v":0.27},{"s":"L","t":2010.9,"v":0.53},{"s":"L","t":2011.2,"v":0.8},{"s":"L","t":2011.6,"v":0.93},{"s":"L","t":2011.9,"v":1.2},{"s":"L","t":2012.3,"v":1.06},{"s":"L","t":2012.6,"v":1.0},{"s":"L","t":2013.0,"v":0.53},{"s":"L","t":2013.3,"v":0.6},{"s":"L","t":2013.7,"v":0.13},{"s":"L","t":2014.0,"v":-0.27},{"s":"L","t":2014.4,"v":-0.13},{"s":"L","t":2015.1,"v":-0.27},{"s":"L","t":2015.4,"v":-0.4},{"s":"L","t":2015.8,"v":-0.53},{"s":"L","t":2016.5,"v":-0.4},{"s":"L","t":2017.2,"v":-0.13},{"s":"L","t":2017.5,"v":0.0},{"s":"L","t":2017.9,"v":-0.07},{"s":"L","t":2018.2,"v":-0.27},{"s":"L","t":2018.6,"v":0.0},{"s":"L","t":2018.9,"v":0.27},{"s":"L","t":2019.3,"v":-0.07},{"s":"L","t":2019.6,"v":-0.33},{"s":"L","t":2020.0,"v":-0.13},{"s":"L","t":2020.3,"v":0.0},{"s":"L","t":2020.7,"v":-0.27},{"s":"L","t":2021.0,"v":-0.53},{"s":"L","t":2021.4,"v":-0.66},{"s":"L","t":2021.7,"v":-0.4},{"s":"L","t":2022.1,"v":0.13},{"s":"L","t":2022.4,"v":1.06},{"s":"L","t":2022.6,"v":1.0},
{"s":"S","t":2010.9,"v":0.27},{"s":"S","t":2011.6,"v":1.2},{"s":"S","t":2011.9,"v":1.33},{"s":"S","t":2012.3,"v":1.13},{"s":"S","t":2013.0,"v":0.93},{"s":"S","t":2013.3,"v":0.8},{"s":"S","t":2013.7,"v":0.53},{"s":"S","t":2014.0,"v":0.13},{"s":"S","t":2014.4,"v":-0.27},{"s":"S","t":2014.7,"v":-0.66},{"s":"S","t":2015.1,"v":-1.26},{"s":"S","t":2015.4,"v":-0.8},{"s":"S","t":2015.8,"v":-0.53},{"s":"S","t":2016.2,"v":-0.93},{"s":"S","t":2016.5,"v":-0.6},{"s":"S","t":2016.8,"v":-0.27},{"s":"S","t":2017.2,"v":-0.2},{"s":"S","t":2017.5,"v":0.0},{"s":"S","t":2017.9,"v":0.07},{"s":"S","t":2018.2,"v":-0.27},{"s":"S","t":2018.6,"v":-0.47},{"s":"S","t":2018.9,"v":-0.27},{"s":"S","t":2019.3,"v":-0.53},{"s":"S","t":2019.6,"v":-0.73},{"s":"S","t":2020.0,"v":-0.4},{"s":"S","t":2020.3,"v":0.4},{"s":"S","t":2020.7,"v":-1.2},{"s":"S","t":2021.0,"v":-3.0},{"s":"S","t":2021.4,"v":-2.53},{"s":"S","t":2021.7,"v":0.13},{"s":"S","t":2022.1,"v":1.46},{"s":"S","t":2022.6,"v":2.3}
]
},
"title": {"text": "Source: MSCI, Datastream, Bloomberg, UBS. Note: *based on fewer variables to construct growth, inflation and stagflation indices.", "orient": "bottom", "anchor": "start", "frame": "bounds", "fontSize": 9.4, "fontWeight": "normal", "color": "#404040", "offset": 14, "dx": -8},
"spacing": 11,
"resolve": {"scale": {"color": "independent"}, "legend": {"color": "independent"}},
"vconcat": [
{"hconcat": [
{
 "width": 316, "height": 143,
 "title": {"text": "Germany", "offset": 1.5},
 "resolve": {"scale": {"x": "independent", "y": "independent"}},
 "layer": [
  {"data": {"name": "de"}, "transform": [{"filter": "datum.s == 'C'"}], "mark": {"type": "line", "strokeWidth": 1.6},
   "encoding": {
    "x": {"field": "t", "type": "quantitative", "scale": {"domain": [1971, 2024.3], "nice": false, "zero": false}, "axis": {"title": null, "values": [1971,1974,1977,1980,1983,1986,1989,1992,1995,1998,2001,2004,2007,2010,2013,2016,2019,2022], "labelExpr": "(datum.value % 100 < 10 ? '0' : '') + (datum.value % 100)"}},
    "y": {"field": "v", "type": "quantitative", "scale": {"domain": [-10, 15], "nice": false, "zero": false}, "axis": {"orient": "right", "values": [-10,-5,0,5,10,15], "grid": false, "title": "pp", "titleAngle": 0, "titleX": 11, "titleY": -7, "titleAlign": "center", "titleBaseline": "bottom", "labelPadding": 6}},
    "color": {"field": "s", "type": "nominal", "scale": {"domain": ["S","L","C"], "range": ["#C00000","#C8A07D","#2F8ACB"]}, "legend": {"title": null, "legendX": 15, "legendY": -18, "rowPadding": 8, "columnPadding": 54, "labelExpr": "datum.label == 'S' ? 'Stagflation Pressure Index' : datum.label == 'L' ? 'Long-history Stagflation Pressure Index*' : 'CPI YoY - GDP YoY (rhs)'"}}
   }},
  {"data": {"name": "de"}, "transform": [{"filter": "datum.s != 'C'"}], "mark": {"type": "line", "strokeWidth": 1.4},
   "encoding": {
    "x": {"field": "t", "type": "quantitative", "scale": {"domain": [1971, 2024.3], "nice": false, "zero": false}, "axis": null},
    "y": {"field": "v", "type": "quantitative", "scale": {"domain": [-2, 5], "nice": false, "zero": false}, "axis": {"orient": "left", "values": [-2,-1,0,1,2,3,4,5], "grid": true, "title": "StDev", "titleAngle": 0, "titleX": -1, "titleY": -7, "titleAlign": "center", "titleBaseline": "bottom", "labelPadding": 7}},
    "color": {"field": "s", "type": "nominal"}
   }},
  {"data": {"name": "de"}, "transform": [{"filter": "datum.s == 'S'"}, {"joinaggregate": [{"op": "max", "field": "t", "as": "m"}]}, {"filter": "datum.t == datum.m"}],
   "mark": {"type": "text", "fontSize": 8, "fontWeight": "bold", "color": "#C00000", "align": "center", "dx": -4, "dy": -9},
   "encoding": {"x": {"field": "t", "type": "quantitative", "scale": {"domain": [1971, 2024.3], "nice": false, "zero": false}, "axis": null}, "y": {"field": "v", "type": "quantitative", "scale": {"domain": [-2, 5], "nice": false, "zero": false}, "axis": null}, "text": {"field": "v", "type": "quantitative", "format": ".1f"}}},
  {"data": {"name": "de"}, "transform": [{"filter": "datum.s == 'L'"}, {"joinaggregate": [{"op": "max", "field": "t", "as": "m"}]}, {"filter": "datum.t == datum.m"}],
   "mark": {"type": "text", "fontSize": 8, "fontWeight": "bold", "color": "#C8A07D", "align": "left", "dx": 3, "dy": 3},
   "encoding": {"x": {"field": "t", "type": "quantitative", "scale": {"domain": [1971, 2024.3], "nice": false, "zero": false}, "axis": null}, "y": {"field": "v", "type": "quantitative", "scale": {"domain": [-2, 5], "nice": false, "zero": false}, "axis": null}, "text": {"field": "v", "type": "quantitative", "format": ".1f"}}},
  {"data": {"name": "de"}, "transform": [{"filter": "datum.s == 'C'"}, {"joinaggregate": [{"op": "max", "field": "t", "as": "m"}]}, {"filter": "datum.t == datum.m"}],
   "mark": {"type": "text", "fontSize": 8, "fontWeight": "bold", "color": "#2F8ACB", "align": "left", "dx": 1, "dy": -7},
   "encoding": {"x": {"field": "t", "type": "quantitative", "scale": {"domain": [1971, 2024.3], "nice": false, "zero": false}, "axis": null}, "y": {"field": "v", "type": "quantitative", "scale": {"domain": [-10, 15], "nice": false, "zero": false}, "axis": null}, "text": {"field": "v", "type": "quantitative", "format": ".1f"}}},
  {"data": {"name": "de_in"}, "transform": [{"filter": "datum.k == 'Growth'"}], "mark": {"type": "rect", "color": "#F2F2F2"},
   "encoding": {"x": {"datum": 0, "type": "quantitative", "scale": {"domain": [0, 1], "range": [122, 230]}, "axis": null}, "x2": {"datum": 1}, "y": {"datum": 0, "type": "quantitative", "scale": {"domain": [0, 1], "range": [33, -8]}, "axis": null}, "y2": {"datum": 1}}},
  {"data": {"name": "de_in"}, "transform": [{"filter": "datum.k == 'Growth'"}], "mark": {"type": "rule", "color": "#BFBFBF", "strokeWidth": 1},
   "encoding": {"x": {"datum": 0.12, "type": "quantitative", "scale": {"domain": [0, 1], "range": [122, 230]}, "axis": null}, "x2": {"datum": 0.91}, "y": {"datum": 0, "type": "quantitative", "scale": {"domain": [0, 4.41], "range": [16, 4]}, "axis": null}}},
  {"data": {"name": "de_in"}, "mark": {"type": "bar", "width": {"band": 0.55}, "strokeWidth": 0.8},
   "encoding": {"x": {"field": "k", "type": "nominal", "scale": {"domain": ["Growth", "Inflation"], "range": [132, 220], "paddingInner": 0, "paddingOuter": 0}, "axis": null}, "y": {"field": "v", "type": "quantitative", "scale": {"domain": [0, 4.41], "range": [16, 4]}, "axis": null},
    "color": {"condition": {"test": "datum.k == 'Growth'", "value": "#7030A0"}, "value": "#ED7D31"},
    "stroke": {"condition": {"test": "datum.k == 'Growth' && datum.v > 0.1", "value": "#7030A0"}, "value": "transparent"}}},
  {"data": {"name": "de_in"}, "mark": {"type": "text", "fontSize": 7, "color": "#404040", "baseline": "bottom", "dy": -3},
   "encoding": {"x": {"field": "k", "type": "nominal", "scale": {"domain": ["Growth", "Inflation"], "range": [132, 220], "paddingInner": 0, "paddingOuter": 0}, "axis": null}, "y": {"field": "v", "type": "quantitative", "scale": {"domain": [0, 4.41], "range": [16, 4]}, "axis": null}, "text": {"field": "v", "type": "quantitative", "format": ".2f"}}},
  {"data": {"name": "de_in"}, "mark": {"type": "text", "fontSize": 7, "color": "#404040"},
   "encoding": {"x": {"field": "k", "type": "nominal", "scale": {"domain": ["Growth", "Inflation"], "range": [132, 220], "paddingInner": 0, "paddingOuter": 0}, "axis": null}, "y": {"datum": 0.22, "type": "quantitative", "scale": {"domain": [0, 1], "range": [33, -8]}, "axis": null}, "text": {"field": "k"}}},
  {"data": {"name": "de_in"}, "transform": [{"filter": "datum.k == 'Growth'"}], "mark": {"type": "text", "fontSize": 7, "color": "#404040", "align": "left"},
   "encoding": {"x": {"datum": 0.06, "type": "quantitative", "scale": {"domain": [0, 1], "range": [122, 230]}, "axis": null}, "y": {"datum": 0.85, "type": "quantitative", "scale": {"domain": [0, 1], "range": [33, -8]}, "axis": null}, "text": {"value": "StDev"}}}
 ]
},
{
 "width": 316, "height": 143,
 "title": {"text": "Sweden", "offset": -5.5},
 "resolve": {"scale": {"x": "independent", "y": "independent"}},
 "layer": [
  {"data": {"name": "se"}, "transform": [{"filter": "datum.s == 'C'"}], "mark": {"type": "line", "strokeWidth": 1.6},
   "encoding": {
    "x": {"field": "t", "type": "quantitative", "scale": {"domain": [1959, 2024.3], "nice": false, "zero": false}, "axis": {"title": null, "values": [1959,1962,1965,1968,1971,1974,1977,1980,1983,1986,1989,1992,1995,1998,2001,2004,2007,2010,2013,2016,2019,2022], "labelExpr": "(datum.value % 100 < 10 ? '0' : '') + (datum.value % 100)"}},
    "y": {"field": "v", "type": "quantitative", "scale": {"domain": [-10, 15], "nice": false, "zero": false}, "axis": {"orient": "right", "values": [-10,-5,0,5,10,15], "grid": false, "title": "PP", "titleAngle": 0, "titleX": 1, "titleY": -2, "titleAlign": "center", "titleBaseline": "bottom", "labelPadding": 8}},
    "color": {"field": "s", "type": "nominal", "scale": {"domain": ["S","L","C"], "range": ["#C00000","#C8A07D","#2F8ACB"]}, "legend": {"title": null, "legendX": 18, "legendY": -23, "rowPadding": 0, "columnPadding": 70, "labelExpr": "datum.label == 'S' ? 'Stagflation Pressure Index' : datum.label == 'L' ? 'Long-history Stagflation Pressure Index*' : 'CPI YoY - GDP YoY (rhs)'"}}
   }},
  {"data": {"name": "se"}, "transform": [{"filter": "datum.s != 'C'"}], "mark": {"type": "line", "strokeWidth": 1.4},
   "encoding": {
    "x": {"field": "t", "type": "quantitative", "scale": {"domain": [1959, 2024.3], "nice": false, "zero": false}, "axis": null},
    "y": {"field": "v", "type": "quantitative", "scale": {"domain": [-3, 4], "nice": false, "zero": false}, "axis": {"orient": "left", "values": [-3,-2,-1,0,1,2,3,4], "grid": true, "title": "StDev", "titleAngle": 0, "titleX": -5, "titleY": -7, "titleAlign": "center", "titleBaseline": "bottom", "labelPadding": 7}},
    "color": {"field": "s", "type": "nominal"}
   }},
  {"data": {"name": "se"}, "transform": [{"filter": "datum.s == 'S'"}, {"joinaggregate": [{"op": "max", "field": "t", "as": "m"}]}, {"filter": "datum.t == datum.m"}],
   "mark": {"type": "text", "fontSize": 8, "fontWeight": "bold", "color": "#C00000", "align": "left", "dx": 4, "dy": 4},
   "encoding": {"x": {"field": "t", "type": "quantitative", "scale": {"domain": [1959, 2024.3], "nice": false, "zero": false}, "axis": null}, "y": {"field": "v", "type": "quantitative", "scale": {"domain": [-3, 4], "nice": false, "zero": false}, "axis": null}, "text": {"field": "v", "type": "quantitative", "format": ".1f"}}},
  {"data": {"name": "se"}, "transform": [{"filter": "datum.s == 'L'"}, {"joinaggregate": [{"op": "max", "field": "t", "as": "m"}]}, {"filter": "datum.t == datum.m"}],
   "mark": {"type": "text", "fontSize": 8, "fontWeight": "bold", "color": "#C8A07D", "align": "left", "dx": 3, "dy": 7},
   "encoding": {"x": {"field": "t", "type": "quantitative", "scale": {"domain": [1959, 2024.3], "nice": false, "zero": false}, "axis": null}, "y": {"field": "v", "type": "quantitative", "scale": {"domain": [-3, 4], "nice": false, "zero": false}, "axis": null}, "text": {"field": "v", "type": "quantitative", "format": ".1f"}}},
  {"data": {"name": "se"}, "transform": [{"filter": "datum.s == 'C'"}, {"joinaggregate": [{"op": "max", "field": "t", "as": "m"}]}, {"filter": "datum.t == datum.m"}],
   "mark": {"type": "text", "fontSize": 8, "fontWeight": "bold", "color": "#2F8ACB", "align": "left", "dx": 4, "dy": -4},
   "encoding": {"x": {"field": "t", "type": "quantitative", "scale": {"domain": [1959, 2024.3], "nice": false, "zero": false}, "axis": null}, "y": {"field": "v", "type": "quantitative", "scale": {"domain": [-10, 15], "nice": false, "zero": false}, "axis": null}, "text": {"field": "v", "type": "quantitative", "format": ".1f"}}},
  {"data": {"name": "se_in"}, "transform": [{"filter": "datum.k == 'Growth'"}], "mark": {"type": "rect", "color": "#F2F2F2"},
   "encoding": {"x": {"datum": 0, "type": "quantitative", "scale": {"domain": [0, 1], "range": [60, 167]}, "axis": null}, "x2": {"datum": 1}, "y": {"datum": 0, "type": "quantitative", "scale": {"domain": [0, 1], "range": [136, 94]}, "axis": null}, "y2": {"datum": 1}}},
  {"data": {"name": "se_in"}, "transform": [{"filter": "datum.k == 'Growth'"}], "mark": {"type": "rule", "color": "#BFBFBF", "strokeWidth": 1},
   "encoding": {"x": {"datum": 0.084, "type": "quantitative", "scale": {"domain": [0, 1], "range": [60, 167]}, "axis": null}, "x2": {"datum": 0.92}, "y": {"datum": 0, "type": "quantitative", "scale": {"domain": [0, 3.49], "range": [111, 107]}, "axis": null}}},
  {"data": {"name": "se_in"}, "mark": {"type": "bar", "width": {"band": 0.55}, "strokeWidth": 0.8},
   "encoding": {"x": {"field": "k", "type": "nominal", "scale": {"domain": ["Growth", "Inflation"], "range": [68, 158], "paddingInner": 0, "paddingOuter": 0}, "axis": null}, "y": {"field": "v", "type": "quantitative", "scale": {"domain": [0, 3.49], "range": [111, 107]}, "axis": null},
    "color": {"condition": {"test": "datum.k == 'Growth'", "value": "#7030A0"}, "value": "#ED7D31"},
    "stroke": {"condition": {"test": "datum.k == 'Growth' && datum.v > 0.1", "value": "#7030A0"}, "value": "transparent"}}},
  {"data": {"name": "se_in"}, "transform": [{"filter": "datum.v > 0.05"}], "mark": {"type": "text", "fontSize": 7, "color": "#404040", "baseline": "bottom", "dy": -3},
   "encoding": {"x": {"field": "k", "type": "nominal", "scale": {"domain": ["Growth", "Inflation"], "range": [68, 158], "paddingInner": 0, "paddingOuter": 0}, "axis": null}, "y": {"field": "v", "type": "quantitative", "scale": {"domain": [0, 3.49], "range": [111, 107]}, "axis": null}, "text": {"field": "v", "type": "quantitative", "format": ".2f"}}},
  {"data": {"name": "se_in"}, "transform": [{"filter": "datum.v <= 0.05"}], "mark": {"type": "text", "fontSize": 7, "color": "#404040", "baseline": "top", "dy": 1},
   "encoding": {"x": {"field": "k", "type": "nominal", "scale": {"domain": ["Growth", "Inflation"], "range": [68, 158], "paddingInner": 0, "paddingOuter": 0}, "axis": null}, "y": {"datum": 0, "type": "quantitative", "scale": {"domain": [0, 3.49], "range": [111, 107]}, "axis": null}, "text": {"field": "v", "type": "quantitative", "format": ".2f"}}},
  {"data": {"name": "se_in"}, "mark": {"type": "text", "fontSize": 7, "color": "#404040"},
   "encoding": {"x": {"field": "k", "type": "nominal", "scale": {"domain": ["Growth", "Inflation"], "range": [68, 158], "paddingInner": 0, "paddingOuter": 0}, "axis": null}, "y": {"datum": 0.24, "type": "quantitative", "scale": {"domain": [0, 1], "range": [136, 94]}, "axis": null}, "text": {"field": "k"}}},
  {"data": {"name": "se_in"}, "transform": [{"filter": "datum.k == 'Growth'"}], "mark": {"type": "text", "fontSize": 7, "color": "#404040", "align": "left"},
   "encoding": {"x": {"datum": 0.065, "type": "quantitative", "scale": {"domain": [0, 1], "range": [60, 167]}, "axis": null}, "y": {"datum": 0.83, "type": "quantitative", "scale": {"domain": [0, 1], "range": [136, 94]}, "axis": null}, "text": {"value": "StDev"}}}
 ]
}
], "spacing": 16, "resolve": {"scale": {"color": "independent"}, "legend": {"color": "independent"}}},
{"hconcat": [
{
 "width": 316, "height": 152,
 "title": {"text": "UK", "offset": -11.5},
 "resolve": {"scale": {"x": "independent", "y": "independent"}},
 "layer": [
  {"data": {"name": "uk"}, "transform": [{"filter": "datum.s == 'C'"}], "mark": {"type": "line", "strokeWidth": 1.6},
   "encoding": {
    "x": {"field": "t", "type": "quantitative", "scale": {"domain": [1955, 2024.9], "nice": false, "zero": false}, "axis": {"title": null, "values": [1955,1960,1965,1970,1975,1980,1985,1990,1995,2000,2005,2010,2015,2020], "labelExpr": "(datum.value % 100 < 10 ? '0' : '') + (datum.value % 100)"}},
    "y": {"field": "v", "type": "quantitative", "scale": {"domain": [-25, 35], "nice": false, "zero": false}, "axis": {"orient": "right", "values": [-25,-20,-15,-10,-5,0,5,10,15,20,25,30,35], "grid": false, "title": "pp", "titleAngle": 0, "titleX": -1, "titleY": -10, "titleAlign": "center", "titleBaseline": "bottom", "labelPadding": 6}},
    "color": {"field": "s", "type": "nominal", "scale": {"domain": ["S","L","C"], "range": ["#C00000","#C8A07D","#2F8ACB"]}, "legend": {"title": null, "legendX": 14, "legendY": -12, "rowPadding": 6, "columnPadding": 55, "labelExpr": "datum.label == 'S' ? 'Stagflation Pressure Index' : datum.label == 'L' ? 'Long-history Stagflation Pressure Index*' : 'CPI YoY - GDP YoY (rhs)'"}}
   }},
  {"data": {"name": "uk"}, "transform": [{"filter": "datum.s != 'C'"}], "mark": {"type": "line", "strokeWidth": 1.4},
   "encoding": {
    "x": {"field": "t", "type": "quantitative", "scale": {"domain": [1955, 2024.9], "nice": false, "zero": false}, "axis": null},
    "y": {"field": "v", "type": "quantitative", "scale": {"domain": [-3, 4], "nice": false, "zero": false}, "axis": {"orient": "left", "values": [-3,-2,-1,0,1,2,3,4], "grid": true, "title": "StDev", "titleAngle": 0, "titleX": -1, "titleY": -11, "titleAlign": "center", "titleBaseline": "bottom", "labelPadding": 7}},
    "color": {"field": "s", "type": "nominal"}
   }},
  {"data": {"name": "uk"}, "transform": [{"filter": "datum.s == 'S'"}, {"joinaggregate": [{"op": "max", "field": "t", "as": "m"}]}, {"filter": "datum.t == datum.m"}],
   "mark": {"type": "text", "fontSize": 8, "fontWeight": "bold", "color": "#C00000", "align": "center", "dx": -4, "dy": -9},
   "encoding": {"x": {"field": "t", "type": "quantitative", "scale": {"domain": [1955, 2024.9], "nice": false, "zero": false}, "axis": null}, "y": {"field": "v", "type": "quantitative", "scale": {"domain": [-3, 4], "nice": false, "zero": false}, "axis": null}, "text": {"field": "v", "type": "quantitative", "format": ".1f"}}},
  {"data": {"name": "uk"}, "transform": [{"filter": "datum.s == 'L'"}, {"joinaggregate": [{"op": "max", "field": "t", "as": "m"}]}, {"filter": "datum.t == datum.m"}],
   "mark": {"type": "text", "fontSize": 8, "fontWeight": "bold", "color": "#C8A07D", "align": "left", "dx": 3, "dy": 5},
   "encoding": {"x": {"field": "t", "type": "quantitative", "scale": {"domain": [1955, 2024.9], "nice": false, "zero": false}, "axis": null}, "y": {"field": "v", "type": "quantitative", "scale": {"domain": [-3, 4], "nice": false, "zero": false}, "axis": null}, "text": {"field": "v", "type": "quantitative", "format": ".1f"}}},
  {"data": {"name": "uk"}, "transform": [{"filter": "datum.s == 'C'"}, {"joinaggregate": [{"op": "max", "field": "t", "as": "m"}]}, {"filter": "datum.t == datum.m"}],
   "mark": {"type": "text", "fontSize": 8, "fontWeight": "bold", "color": "#2F8ACB", "align": "left", "dx": 3, "dy": -6},
   "encoding": {"x": {"field": "t", "type": "quantitative", "scale": {"domain": [1955, 2024.9], "nice": false, "zero": false}, "axis": null}, "y": {"field": "v", "type": "quantitative", "scale": {"domain": [-25, 35], "nice": false, "zero": false}, "axis": null}, "text": {"field": "v", "type": "quantitative", "format": ".1f"}}},
  {"data": {"name": "uk_in"}, "transform": [{"filter": "datum.k == 'Growth'"}], "mark": {"type": "rect", "color": "#F2F2F2"},
   "encoding": {"x": {"datum": 0, "type": "quantitative", "scale": {"domain": [0, 1], "range": [61, 172]}, "axis": null}, "x2": {"datum": 1}, "y": {"datum": 0, "type": "quantitative", "scale": {"domain": [0, 1], "range": [146, 102]}, "axis": null}, "y2": {"datum": 1}}},
  {"data": {"name": "uk_in"}, "transform": [{"filter": "datum.k == 'Growth'"}], "mark": {"type": "rule", "color": "#BFBFBF", "strokeWidth": 1},
   "encoding": {"x": {"datum": 0.09, "type": "quantitative", "scale": {"domain": [0, 1], "range": [61, 172]}, "axis": null}, "x2": {"datum": 0.88}, "y": {"datum": 0, "type": "quantitative", "scale": {"domain": [0, 2.84], "range": [121, 117]}, "axis": null}}},
  {"data": {"name": "uk_in"}, "mark": {"type": "bar", "width": {"band": 0.55}, "strokeWidth": 0.8},
   "encoding": {"x": {"field": "k", "type": "nominal", "scale": {"domain": ["Growth", "Inflation"], "range": [69.5, 159.5], "paddingInner": 0, "paddingOuter": 0}, "axis": null}, "y": {"field": "v", "type": "quantitative", "scale": {"domain": [0, 2.84], "range": [121, 117]}, "axis": null},
    "color": {"condition": {"test": "datum.k == 'Growth'", "value": "#7030A0"}, "value": "#ED7D31"},
    "stroke": {"condition": {"test": "datum.k == 'Growth' && datum.v > 0.1", "value": "#7030A0"}, "value": "transparent"}}},
  {"data": {"name": "uk_in"}, "transform": [{"filter": "datum.v > 0.05"}], "mark": {"type": "text", "fontSize": 7, "color": "#404040", "baseline": "bottom", "dy": -3},
   "encoding": {"x": {"field": "k", "type": "nominal", "scale": {"domain": ["Growth", "Inflation"], "range": [69.5, 159.5], "paddingInner": 0, "paddingOuter": 0}, "axis": null}, "y": {"field": "v", "type": "quantitative", "scale": {"domain": [0, 2.84], "range": [121, 117]}, "axis": null}, "text": {"field": "v", "type": "quantitative", "format": ".2f"}}},
  {"data": {"name": "uk_in"}, "transform": [{"filter": "datum.v <= 0.05"}], "mark": {"type": "text", "fontSize": 7, "color": "#404040", "baseline": "top", "dy": 1},
   "encoding": {"x": {"field": "k", "type": "nominal", "scale": {"domain": ["Growth", "Inflation"], "range": [69.5, 159.5], "paddingInner": 0, "paddingOuter": 0}, "axis": null}, "y": {"datum": 0, "type": "quantitative", "scale": {"domain": [0, 2.84], "range": [121, 117]}, "axis": null}, "text": {"field": "v", "type": "quantitative", "format": ".2f"}}},
  {"data": {"name": "uk_in"}, "mark": {"type": "text", "fontSize": 7, "color": "#404040"},
   "encoding": {"x": {"field": "k", "type": "nominal", "scale": {"domain": ["Growth", "Inflation"], "range": [69.5, 159.5], "paddingInner": 0, "paddingOuter": 0}, "axis": null}, "y": {"datum": 0.23, "type": "quantitative", "scale": {"domain": [0, 1], "range": [146, 102]}, "axis": null}, "text": {"field": "k"}}},
  {"data": {"name": "uk_in"}, "transform": [{"filter": "datum.k == 'Growth'"}], "mark": {"type": "text", "fontSize": 7, "color": "#404040", "align": "left"},
   "encoding": {"x": {"datum": 0.063, "type": "quantitative", "scale": {"domain": [0, 1], "range": [61, 172]}, "axis": null}, "y": {"datum": 0.82, "type": "quantitative", "scale": {"domain": [0, 1], "range": [146, 102]}, "axis": null}, "text": {"value": "StDev"}}}
 ]
},
{
 "width": 316, "height": 152,
 "title": {"text": "France", "offset": -8.5},
 "resolve": {"scale": {"x": "independent", "y": "independent"}},
 "layer": [
  {"data": {"name": "fr"}, "transform": [{"filter": "datum.s == 'C'"}], "mark": {"type": "line", "strokeWidth": 1.6},
   "encoding": {
    "x": {"field": "t", "type": "quantitative", "scale": {"domain": [1958, 2024.3], "nice": false, "zero": false}, "axis": {"title": null, "values": [1958,1962,1966,1970,1974,1978,1982,1986,1990,1994,1998,2002,2006,2010,2014,2018,2022], "labelExpr": "(datum.value % 100 < 10 ? '0' : '') + (datum.value % 100)"}},
    "y": {"field": "v", "type": "quantitative", "scale": {"domain": [-20, 20], "nice": false, "zero": false}, "axis": {"orient": "right", "values": [-20,-15,-10,-5,0,5,10,15,20], "grid": false, "title": "pp", "titleAngle": 0, "titleX": 16, "titleY": -8, "titleAlign": "center", "titleBaseline": "bottom", "labelPadding": 10}},
    "color": {"field": "s", "type": "nominal", "scale": {"domain": ["S","L","C"], "range": ["#C00000","#C8A07D","#2F8ACB"]}, "legend": {"title": null, "legendX": 14, "legendY": -8, "rowPadding": 0.5, "columnPadding": 70, "labelExpr": "datum.label == 'S' ? 'Stagflation Pressure Index' : datum.label == 'L' ? 'Long-history Stagflation Pressure Index*' : 'CPI YoY - GDP YoY (rhs)'"}}
   }},
  {"data": {"name": "fr"}, "transform": [{"filter": "datum.s != 'C'"}], "mark": {"type": "line", "strokeWidth": 1.4},
   "encoding": {
    "x": {"field": "t", "type": "quantitative", "scale": {"domain": [1958, 2024.3], "nice": false, "zero": false}, "axis": null},
    "y": {"field": "v", "type": "quantitative", "scale": {"domain": [-3.5, 2.5], "nice": false, "zero": false}, "axis": {"orient": "left", "values": [-3.5,-2.5,-1.5,-0.5,0.5,1.5,2.5], "format": ".1f", "grid": true, "title": "StDev", "titleAngle": 0, "titleX": -5, "titleY": -7, "titleAlign": "center", "titleBaseline": "bottom", "labelPadding": 7}},
    "color": {"field": "s", "type": "nominal"}
   }},
  {"data": {"name": "fr"}, "transform": [{"filter": "datum.s == 'S'"}, {"joinaggregate": [{"op": "max", "field": "t", "as": "m"}]}, {"filter": "datum.t == datum.m"}],
   "mark": {"type": "text", "fontSize": 8, "fontWeight": "bold", "color": "#C00000", "align": "right", "dx": -3, "dy": 2},
   "encoding": {"x": {"field": "t", "type": "quantitative", "scale": {"domain": [1958, 2024.3], "nice": false, "zero": false}, "axis": null}, "y": {"field": "v", "type": "quantitative", "scale": {"domain": [-3.5, 2.5], "nice": false, "zero": false}, "axis": null}, "text": {"field": "v", "type": "quantitative", "format": ".1f"}}},
  {"data": {"name": "fr"}, "transform": [{"filter": "datum.s == 'L'"}, {"joinaggregate": [{"op": "max", "field": "t", "as": "m"}]}, {"filter": "datum.t == datum.m"}],
   "mark": {"type": "text", "fontSize": 8, "fontWeight": "bold", "color": "#C8A07D", "align": "left", "dx": 3, "dy": 12},
   "encoding": {"x": {"field": "t", "type": "quantitative", "scale": {"domain": [1958, 2024.3], "nice": false, "zero": false}, "axis": null}, "y": {"field": "v", "type": "quantitative", "scale": {"domain": [-3.5, 2.5], "nice": false, "zero": false}, "axis": null}, "text": {"field": "v", "type": "quantitative", "format": ".1f"}}},
  {"data": {"name": "fr"}, "transform": [{"filter": "datum.s == 'C'"}, {"joinaggregate": [{"op": "max", "field": "t", "as": "m"}]}, {"filter": "datum.t == datum.m"}],
   "mark": {"type": "text", "fontSize": 7.5, "fontWeight": "bold", "color": "#2F8ACB", "align": "left", "dx": 1, "dy": 0},
   "encoding": {"x": {"field": "t", "type": "quantitative", "scale": {"domain": [1958, 2024.3], "nice": false, "zero": false}, "axis": null}, "y": {"field": "v", "type": "quantitative", "scale": {"domain": [-20, 20], "nice": false, "zero": false}, "axis": null}, "text": {"field": "v", "type": "quantitative", "format": ".1f"}}},
  {"data": {"name": "fr_in"}, "transform": [{"filter": "datum.k == 'Growth'"}], "mark": {"type": "rect", "color": "#F2F2F2"},
   "encoding": {"x": {"datum": 0, "type": "quantitative", "scale": {"domain": [0, 1], "range": [68, 177]}, "axis": null}, "x2": {"datum": 1}, "y": {"datum": 0, "type": "quantitative", "scale": {"domain": [0, 1], "range": [142, 102]}, "axis": null}, "y2": {"datum": 1}}},
  {"data": {"name": "fr_in"}, "transform": [{"filter": "datum.k == 'Growth'"}], "mark": {"type": "rule", "color": "#BFBFBF", "strokeWidth": 1},
   "encoding": {"x": {"datum": 0.12, "type": "quantitative", "scale": {"domain": [0, 1], "range": [68, 177]}, "axis": null}, "x2": {"datum": 0.95}, "y": {"datum": 0, "type": "quantitative", "scale": {"domain": [0, 2.98], "range": [125, 117.3]}, "axis": null}}},
  {"data": {"name": "fr_in"}, "mark": {"type": "bar", "width": {"band": 0.55}, "strokeWidth": 0.8},
   "encoding": {"x": {"field": "k", "type": "nominal", "scale": {"domain": ["Growth", "Inflation"], "range": [78, 166], "paddingInner": 0, "paddingOuter": 0}, "axis": null}, "y": {"field": "v", "type": "quantitative", "scale": {"domain": [0, 2.98], "range": [125, 117.3]}, "axis": null},
    "color": {"condition": {"test": "datum.k == 'Growth'", "value": "#7030A0"}, "value": "#ED7D31"},
    "stroke": {"condition": {"test": "datum.k == 'Growth' && datum.v > 0.1", "value": "#7030A0"}, "value": "transparent"}}},
  {"data": {"name": "fr_in"}, "mark": {"type": "text", "fontSize": 7, "color": "#404040", "baseline": "bottom", "dy": -2.5},
   "encoding": {"x": {"field": "k", "type": "nominal", "scale": {"domain": ["Growth", "Inflation"], "range": [78, 166], "paddingInner": 0, "paddingOuter": 0}, "axis": null}, "y": {"field": "v", "type": "quantitative", "scale": {"domain": [0, 2.98], "range": [125, 117.3]}, "axis": null}, "text": {"field": "v", "type": "quantitative", "format": ".2f"}}},
  {"data": {"name": "fr_in"}, "mark": {"type": "text", "fontSize": 7, "color": "#404040"},
   "encoding": {"x": {"field": "k", "type": "nominal", "scale": {"domain": ["Growth", "Inflation"], "range": [78, 166], "paddingInner": 0, "paddingOuter": 0}, "axis": null}, "y": {"datum": 0.22, "type": "quantitative", "scale": {"domain": [0, 1], "range": [142, 102]}, "axis": null}, "text": {"field": "k"}}},
  {"data": {"name": "fr_in"}, "transform": [{"filter": "datum.k == 'Growth'"}], "mark": {"type": "text", "fontSize": 7, "color": "#404040", "align": "left"},
   "encoding": {"x": {"datum": 0.064, "type": "quantitative", "scale": {"domain": [0, 1], "range": [68, 177]}, "axis": null}, "y": {"datum": 0.8, "type": "quantitative", "scale": {"domain": [0, 1], "range": [142, 102]}, "axis": null}, "text": {"value": "StDev"}}}
 ]
}
], "spacing": 20, "resolve": {"scale": {"color": "independent"}, "legend": {"color": "independent"}}}
]
}
